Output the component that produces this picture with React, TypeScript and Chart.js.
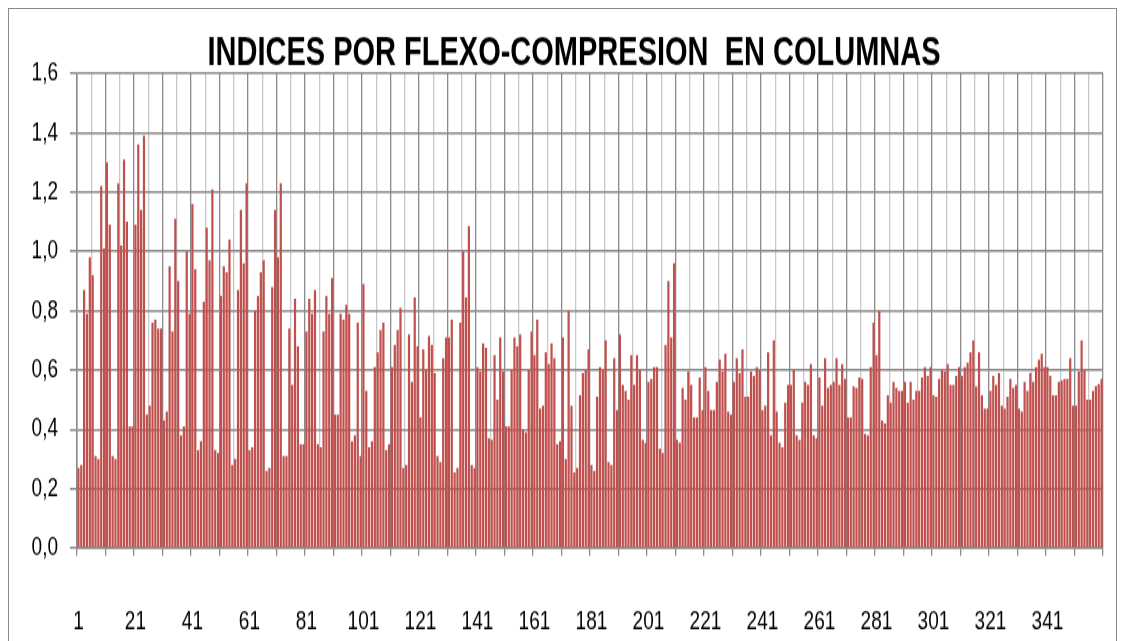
import React, { useEffect, useRef } from "react";
import { Chart, registerables } from "chart.js";

Chart.register(...registerables);

const TITLE = "INDICES POR FLEXO-COMPRESION  EN COLUMNAS";
const Y_MIN = 0;
const Y_MAX = 1.6;
const Y_STEP = 0.2;
const LABEL_EVERY = 20;

// columns 1-60
const valuesA = [
  0.27, 0.28, 0.87, 0.79, 0.98, 0.92, 0.31, 0.3, 1.22, 1.01, 1.3, 1.09, 0.31, 0.3, 1.23, 1.02, 1.31, 1.1, 0.41, 0.41,
  1.09, 1.36, 1.14, 1.39, 0.45, 0.48, 0.76, 0.77, 0.74, 0.74, 0.43, 0.46, 0.95, 0.73, 1.11, 0.9, 0.38, 0.41, 1.0, 0.79,
  1.16, 0.94, 0.33, 0.36, 0.83, 1.08, 0.97, 1.21, 0.33, 0.32, 0.85, 0.95, 0.93, 1.04, 0.28, 0.3, 0.87, 1.14, 0.96, 1.23,
];
// columns 61-120
const valuesB = [
  0.33, 0.34, 0.8, 0.85, 0.93, 0.97, 0.26, 0.27, 0.88, 1.14, 0.98, 1.23, 0.31, 0.31, 0.74, 0.55, 0.84, 0.68, 0.35, 0.35,
  0.73, 0.84, 0.79, 0.87, 0.35, 0.34, 0.73, 0.85, 0.79, 0.91, 0.45, 0.45, 0.79, 0.77, 0.82, 0.79, 0.36, 0.38, 0.76, 0.31,
  0.89, 0.53, 0.34, 0.36, 0.61, 0.66, 0.735, 0.76, 0.33, 0.35, 0.61, 0.685, 0.735, 0.81, 0.27, 0.28, 0.72, 0.56, 0.845, 0.68,
];
// columns 121-180
const valuesC = [
  0.44, 0.67, 0.6, 0.715, 0.685, 0.59, 0.31, 0.29, 0.64, 0.71, 0.71, 0.77, 0.255, 0.27, 0.76, 1.0, 0.845, 1.085, 0.28, 0.27,
  0.61, 0.595, 0.69, 0.675, 0.37, 0.365, 0.65, 0.5, 0.71, 0.595, 0.41, 0.41, 0.6, 0.71, 0.68, 0.72, 0.4, 0.39, 0.6, 0.73,
  0.65, 0.77, 0.47, 0.48, 0.66, 0.62, 0.69, 0.64, 0.35, 0.36, 0.71, 0.3, 0.8, 0.48, 0.255, 0.27, 0.515, 0.59, 0.6, 0.67,
];
// columns 181-240
const valuesD = [
  0.28, 0.26, 0.51, 0.61, 0.6, 0.7, 0.29, 0.28, 0.64, 0.465, 0.72, 0.55, 0.53, 0.5, 0.65, 0.55, 0.65, 0.6, 0.365, 0.355,
  0.56, 0.57, 0.61, 0.61, 0.335, 0.32, 0.685, 0.9, 0.71, 0.96, 0.365, 0.355, 0.54, 0.5, 0.595, 0.55, 0.44, 0.44, 0.575, 0.465,
  0.61, 0.53, 0.465, 0.465, 0.56, 0.635, 0.595, 0.655, 0.46, 0.45, 0.56, 0.64, 0.59, 0.67, 0.51, 0.51, 0.595, 0.58, 0.61, 0.6,
];
// columns 241-300
const valuesE = [
  0.465, 0.48, 0.66, 0.38, 0.7, 0.46, 0.355, 0.34, 0.49, 0.55, 0.55, 0.6, 0.38, 0.365, 0.49, 0.56, 0.55, 0.62, 0.38, 0.37,
  0.575, 0.48, 0.64, 0.54, 0.55, 0.56, 0.64, 0.55, 0.62, 0.57, 0.44, 0.44, 0.545, 0.54, 0.575, 0.57, 0.385, 0.38, 0.61, 0.76,
  0.65, 0.8, 0.43, 0.42, 0.515, 0.49, 0.56, 0.54, 0.53, 0.53, 0.56, 0.49, 0.56, 0.5, 0.53, 0.53, 0.575, 0.61, 0.58, 0.61,
];
// columns 301-360
const valuesF = [
  0.515, 0.51, 0.57, 0.6, 0.595, 0.62, 0.55, 0.55, 0.58, 0.61, 0.58, 0.61, 0.625, 0.66, 0.7, 0.545, 0.66, 0.515, 0.47, 0.47,
  0.53, 0.58, 0.55, 0.59, 0.48, 0.47, 0.51, 0.57, 0.54, 0.55, 0.47, 0.46, 0.56, 0.53, 0.59, 0.56, 0.61, 0.635, 0.655, 0.61,
  0.61, 0.58, 0.515, 0.515, 0.56, 0.565, 0.57, 0.57, 0.64, 0.48, 0.48, 0.595, 0.7, 0.6, 0.5, 0.5, 0.53, 0.546, 0.553, 0.57,
];

const values = [...valuesA, ...valuesB, ...valuesC, ...valuesD, ...valuesE, ...valuesF];
const categories = values.map((_, i) => String(i + 1));

// visual constants
const STRETCH = 1.4;
const CW = 1107;
const CH = Math.round(641 / STRETCH);
const DARK = "#8a8a8a";
const LIGHT = "#c8c8c8";
const BAR = "rgb(192,80,77)";
const FONT = "'Liberation Sans', Arial, sans-serif";
const PLOT_BOTTOM = (548 - 9) / STRETCH;

const titleShift = {
  id: "titleShift",
  afterLayout(chart: any) {
    const t = chart.titleBlock;
    if (t) {
      t.left += 18;
      t.right += 18;
    }
  },
};

export default function App() {
  const ref = useRef<HTMLCanvasElement>(null);

  useEffect(() => {
    if (!ref.current) return;
    const gridColor = (ctx: any) => {
      const i = ctx.index;
      if (i === undefined || i % 10 === 0) return DARK;
      if (i % 5 === 0) return LIGHT;
      return "rgba(0,0,0,0)";
    };
    const tickColor = (ctx: any) => {
      const i = ctx.index;
      if (i === undefined || i % 10 === 0) return DARK;
      return "rgba(0,0,0,0)";
    };
    const chart = new Chart(ref.current, {
      type: "bar",
      data: {
        labels: categories,
        datasets: [
          {
            data: values,
            backgroundColor: BAR,
            borderWidth: 0,
            barPercentage: 0.78,
            categoryPercentage: 1,
          },
        ],
      },
      options: {
        responsive: false,
        animation: false,
        devicePixelRatio: 1,
        layout: { padding: { left: 0, right: 13, top: 0, bottom: 0 } },
        plugins: {
          legend: { display: false },
          tooltip: { enabled: false },
          title: {
            display: true,
            text: TITLE,
            color: "#000",
            font: { family: FONT, size: 29, weight: "bold", lineHeight: 1 },
            padding: { top: 17, bottom: 0 },
          },
        },
        scales: {
          x: {
            grid: {
              offset: true,
              color: gridColor,
              tickColor: tickColor,
              lineWidth: 1.3,
              tickLength: 41,
              tickBorderDash: [5, 400],
            },
            border: { color: DARK, width: 1.5 },
            ticks: {
              autoSkip: false,
              maxRotation: 0,
              minRotation: 0,
              padding: 0,
              color: "#000",
              font: { family: FONT, size: 19 },
              callback: (_v: any, i: number) => (i % LABEL_EVERY === 0 ? categories[i] : ""),
            },
            afterFit: (s: any) => {
              s.height = CH - PLOT_BOTTOM;
            },
          },
          y: {
            min: Y_MIN,
            max: Y_MAX,
            ticks: {
              stepSize: Y_STEP,
              padding: 12,
              color: "#000",
              font: { family: FONT, size: 19 },
              callback: (v: any) => Number(v).toFixed(1).replace(".", ","),
            },
            grid: { color: DARK, lineWidth: 1.5, tickLength: 7, tickColor: DARK },
            border: { color: DARK, width: 1.5 },
            afterFit: (s: any) => {
              s.width = 68;
            },
          },
        },
      },
      plugins: [titleShift],
    });
    return () => chart.destroy();
  }, []);

  return (
    <div
      style={{
        position: "absolute",
        left: 8,
        top: 8,
        width: CW,
        height: 632,
        borderTop: `1px solid ${DARK}`,
        borderLeft: `1px solid ${DARK}`,
        borderRight: `1px solid ${DARK}`,
        overflow: "hidden",
        background: "#fff",
      }}
    >
      <div style={{ transform: `scaleY(${STRETCH})`, transformOrigin: "0 0", width: CW, height: CH }}>
        <canvas ref={ref} width={CW} height={CH} style={{ display: "block", width: CW, height: CH }} />
      </div>
    </div>
  );
}
